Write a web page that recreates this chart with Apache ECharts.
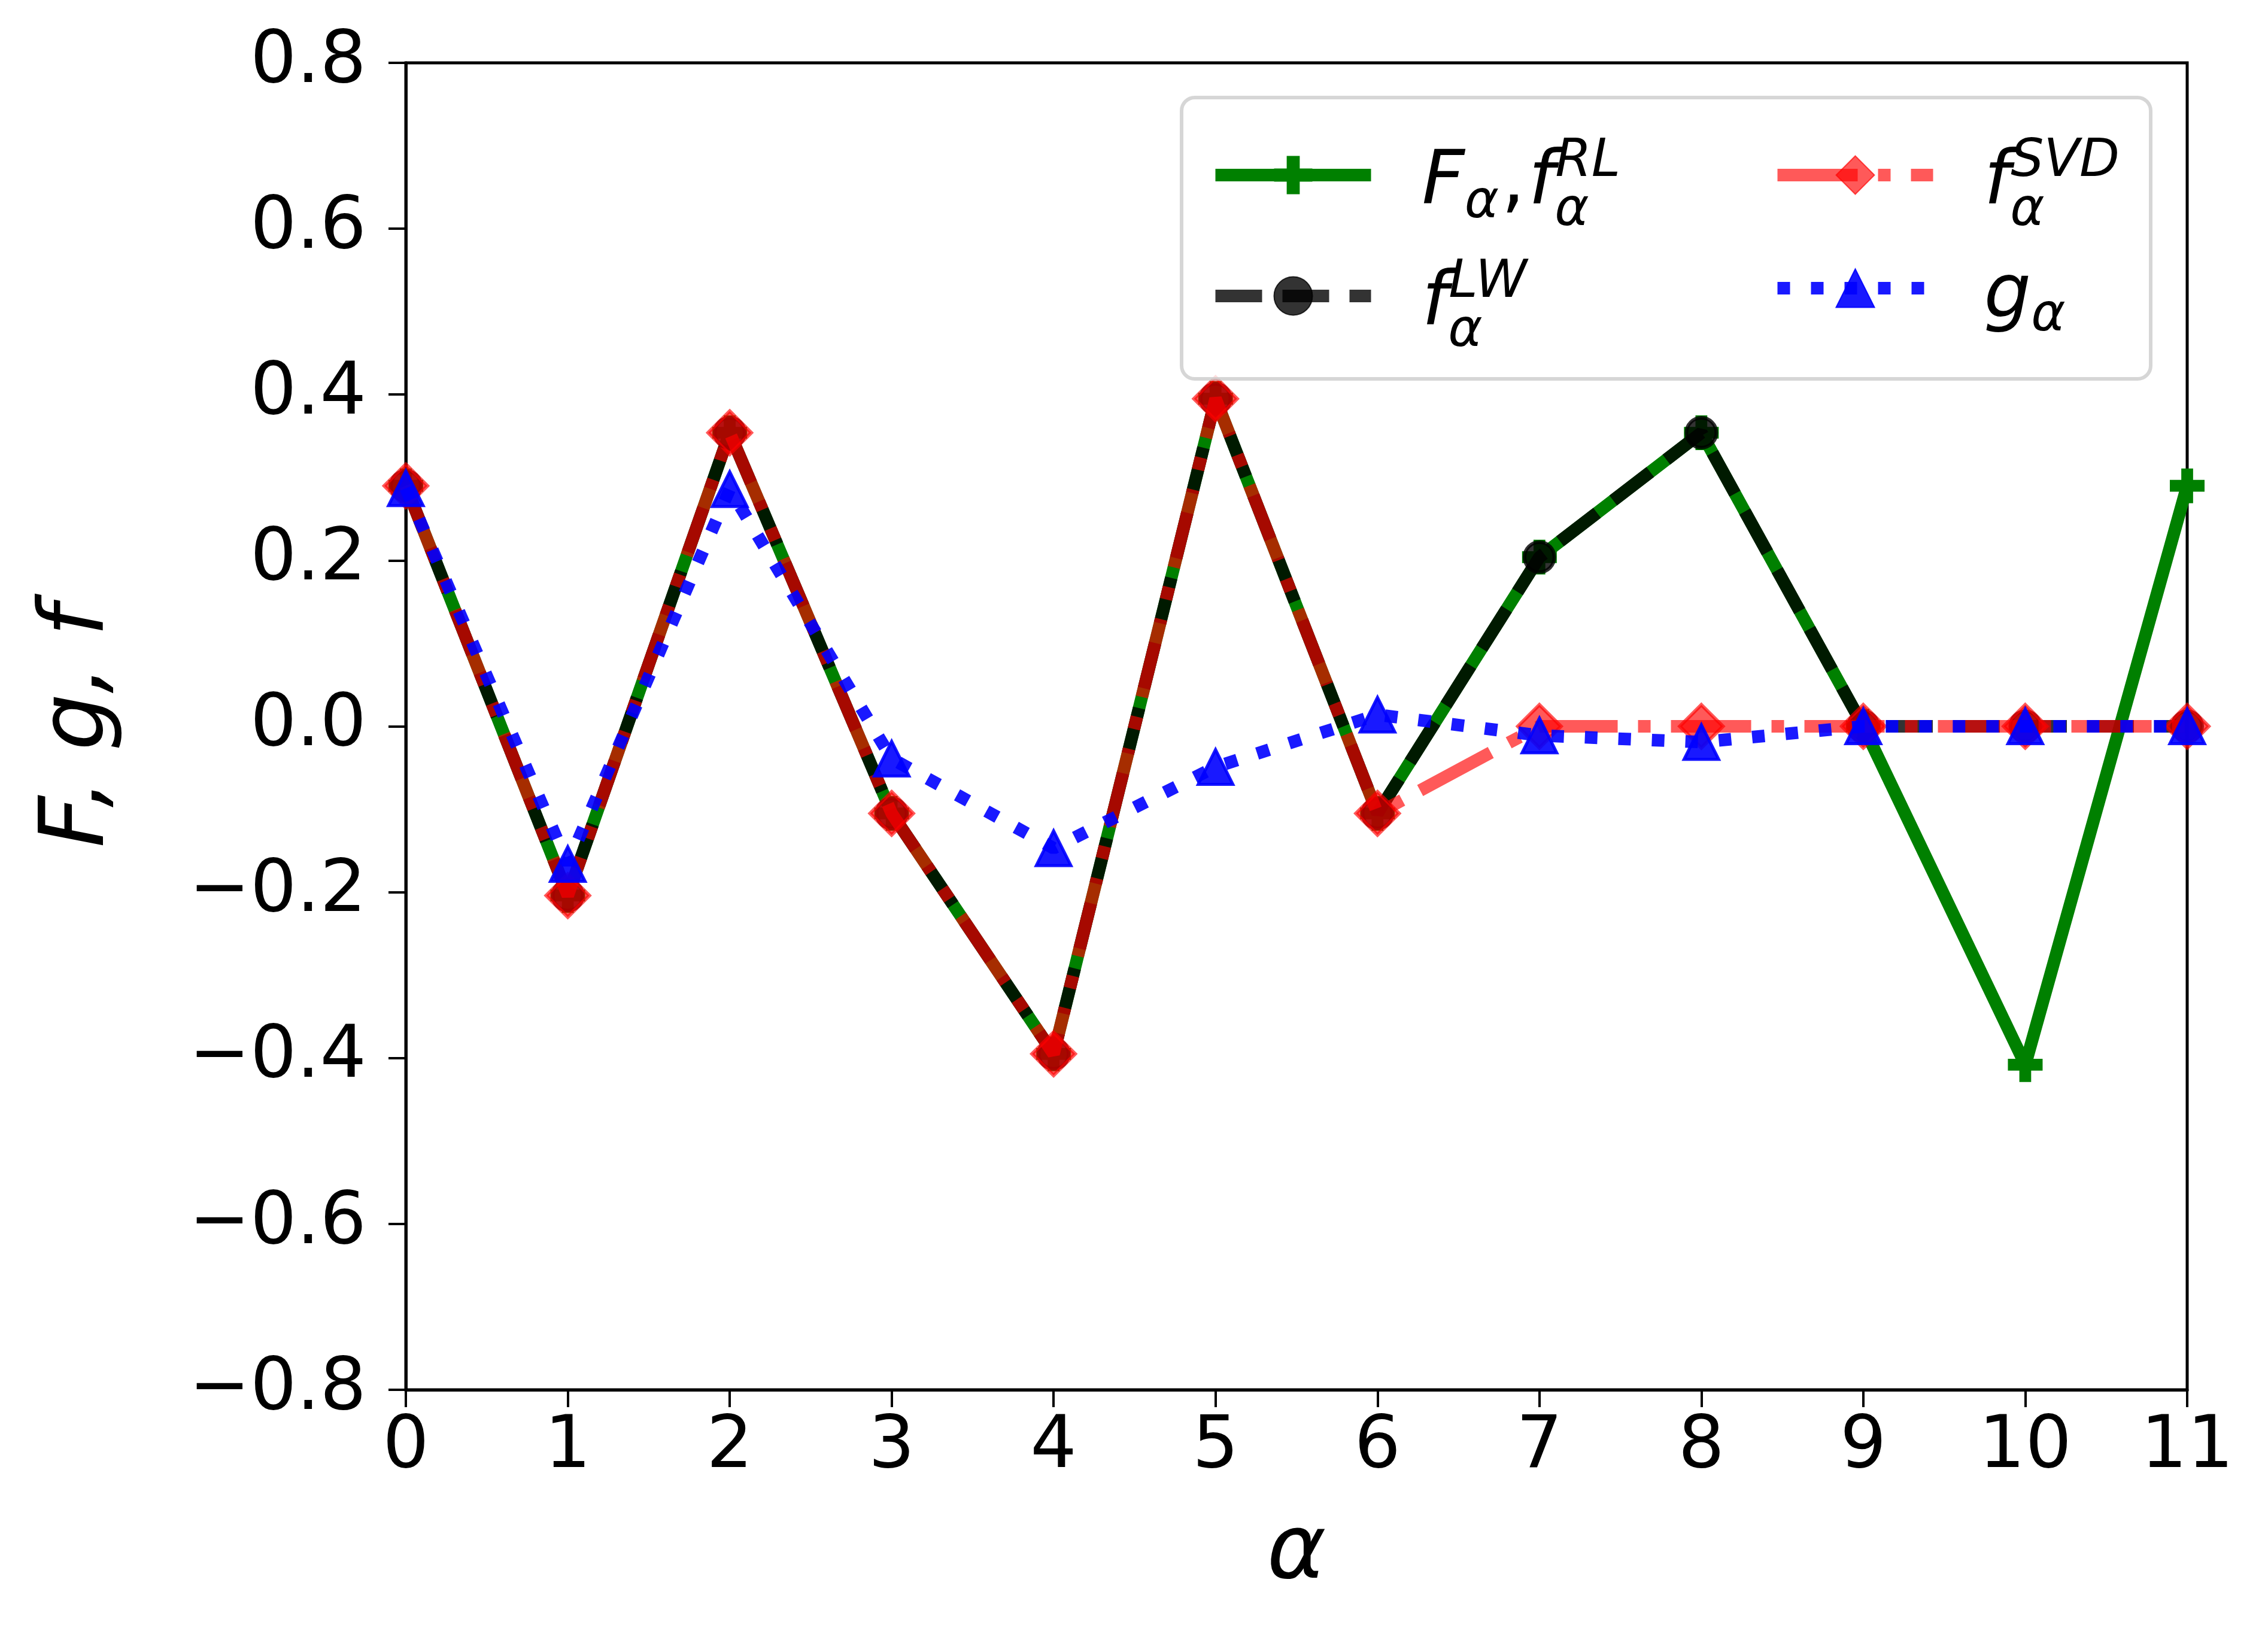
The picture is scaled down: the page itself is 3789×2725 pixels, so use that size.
<!DOCTYPE html>
<html>
<head>
<meta charset="utf-8">
<script src="https://cdn.jsdelivr.net/npm/echarts@6/dist/echarts.min.js"></script>
<style>
  html, body { margin: 0; padding: 0; background: #fff; }
  #main { width: 3789px; height: 2725px; }
</style>
</head>
<body>
<div id="main"></div>
<script>
// alpha index on the x axis
const alpha = [0, 1, 2, 3, 4, 5, 6, 7, 8, 9, 10, 11]
// F_alpha, f_alpha^RL
const fRL = [0.29, -0.204, 0.354, -0.105, -0.395, 0.395, -0.105, 0.204, 0.354, 0.0, -0.408, 0.29]
// f_alpha^LW
const fLW = [0.29, -0.204, 0.354, -0.105, -0.395, 0.395, -0.105, 0.204, 0.354, 0.0, 0.0, 0.0]
// f_alpha^SVD
const fSVD = [0.29, -0.204, 0.354, -0.105, -0.395, 0.395, -0.105, 0.0, 0.0, 0.0, 0.0, 0.0]
// g_alpha
const gA = [0.287, -0.166, 0.286, -0.039, -0.147, -0.049, 0.014, -0.011, -0.019, 0.0, 0.0, 0.0]

const yTicks = [-0.8, 0.8, 0.2] // min, max, step

const pairs = arr => alpha.map((a, i) => [a, arr[i]])

const LW = 21
const dashed = [78, 34]
const dashdot = [134, 34, 21, 34]
const dotted = [21, 35]
const plus = 'path://M3.3,0H6.7V3.3H10V6.7H6.7V10H3.3V6.7H0V3.3H3.3Z'

const GREEN = '#008000'
const BLACK = 'rgba(0,0,0,0.8)'
const RED = 'rgba(255,0,0,0.65)'
const BLUE = 'rgba(0,0,255,0.9)'

const font = 'DejaVu Sans'

const labels = {
  F: '{p|F}{s|α}{c|,}{m|f}{sw|α}{u|RL}',
  LW: '{p|f}{sw|α}{u|LW}',
  SVD: '{p|f}{sw|α}{u|SVD}',
  g: '{p|g}{s|α}'
}

// every token shares lineHeight 200; sub/superscripts are moved with padding
// (a token moves by (top - bottom) / 2)
const tok = (size, extra) => Object.assign({
  fontSize: size, fontStyle: 'italic', fontFamily: font, color: '#000',
  lineHeight: 200, verticalAlign: 'middle'
}, extra)

const rich = {
  p: tok(124, { padding: [30, 0, 0, 80] }),
  m: tok(124, { padding: [30, 0, 0, 0] }),
  c: tok(124, { fontStyle: 'normal', padding: [30, 6, 0, 4] }),
  s: tok(87, { padding: [96, 0, 0, 0] }),
  sw: tok(87, { padding: [122, 0, 0, 0], width: 1 }),
  u: tok(87, { padding: [30, 0, 72, 0] })
}

const chart = echarts.init(document.getElementById('main'), null, { renderer: 'canvas' })

const legendBase = {
  orient: 'vertical',
  top: 188,
  itemWidth: 260,
  itemHeight: 80,
  itemGap: -7,
  padding: 0,
  selectedMode: false,
  z: 20,
  formatter: name => labels[name],
  textStyle: { rich: rich }
}

chart.setOption({
  animation: false,
  backgroundColor: '#fff',
  grid: {
    left: 678, right: 135, top: 105, bottom: 403,
    show: true, borderColor: '#000', borderWidth: 5, backgroundColor: 'transparent'
  },
  xAxis: {
    type: 'value', min: 0, max: 11, interval: 1,
    axisLine: { onZero: false, lineStyle: { color: '#000', width: 5 } },
    axisTick: { length: 29, lineStyle: { color: '#000', width: 4 } },
    axisLabel: { fontSize: 122, fontFamily: font, color: '#000', margin: 36, showMinLabel: true, showMaxLabel: true },
    splitLine: { show: false },
    name: 'α', nameLocation: 'middle', nameGap: 200,
    nameTextStyle: { fontSize: 150, fontStyle: 'italic', fontFamily: font, color: '#000' }
  },
  yAxis: {
    type: 'value', min: yTicks[0], max: yTicks[1], interval: yTicks[2],
    axisLine: { onZero: false, lineStyle: { color: '#000', width: 5 } },
    axisTick: { length: 29, lineStyle: { color: '#000', width: 4 } },
    axisLabel: {
      fontSize: 122, fontFamily: font, color: '#000', margin: 66,
      formatter: v => {
        const r = Math.round(v * 10) / 10
        return (r < 0 ? '\u2212' : '') + Math.abs(r).toFixed(1)
      }
    },
    splitLine: { show: false },
    name: 'F, g, f', nameLocation: 'middle', nameRotate: 90, nameGap: 470,
    nameTextStyle: { fontSize: 150, fontStyle: 'italic', fontFamily: font, color: '#000' }
  },
  legend: [
    Object.assign({}, legendBase, {
      left: 2020,
      data: [
        { name: 'F', lineStyle: { color: GREEN, width: LW, type: 'solid' } },
        { name: 'LW', lineStyle: { color: BLACK, width: LW, type: dashed } }
      ]
    }),
    Object.assign({}, legendBase, {
      left: 2959,
      data: [
        { name: 'SVD', lineStyle: { color: RED, width: LW, type: dashdot } },
        { name: 'g', lineStyle: { color: BLUE, width: LW, type: dotted } }
      ]
    })
  ],
  graphic: [{
    type: 'rect', z: 10,
    shape: { x: 1974, y: 163, width: 1619, height: 470, r: 22 },
    style: { fill: 'rgba(255,255,255,0.8)', stroke: 'rgba(204,204,204,0.8)', lineWidth: 6 }
  }],
  series: [
    {
      name: 'F', type: 'line', data: pairs(fRL), z: 2,
      symbol: plus, symbolSize: 58, showAllSymbol: true,
      lineStyle: { color: GREEN, width: LW, type: 'solid' },
      itemStyle: { color: GREEN },
      emphasis: { disabled: true }
    },
    {
      name: 'LW', type: 'line', data: pairs(fLW), z: 3,
      symbol: 'circle', symbolSize: 50, showAllSymbol: true,
      lineStyle: { color: BLACK, width: LW, type: dashed },
      itemStyle: { color: BLACK, borderColor: BLACK, borderWidth: 6 },
      emphasis: { disabled: true }
    },
    {
      name: 'SVD', type: 'line', data: pairs(fSVD), z: 4,
      symbol: 'diamond', symbolSize: 72, showAllSymbol: true,
      lineStyle: { color: RED, width: LW, type: dashdot },
      itemStyle: { color: RED, borderColor: RED, borderWidth: 6 },
      emphasis: { disabled: true }
    },
    {
      name: 'g', type: 'line', data: pairs(gA), z: 5,
      symbol: 'triangle', symbolSize: 58, showAllSymbol: true,
      lineStyle: { color: BLUE, width: LW, type: dotted },
      itemStyle: { color: BLUE, borderColor: BLUE, borderWidth: 5 },
      emphasis: { disabled: true }
    }
  ]
})
</script>
</body>
</html>
